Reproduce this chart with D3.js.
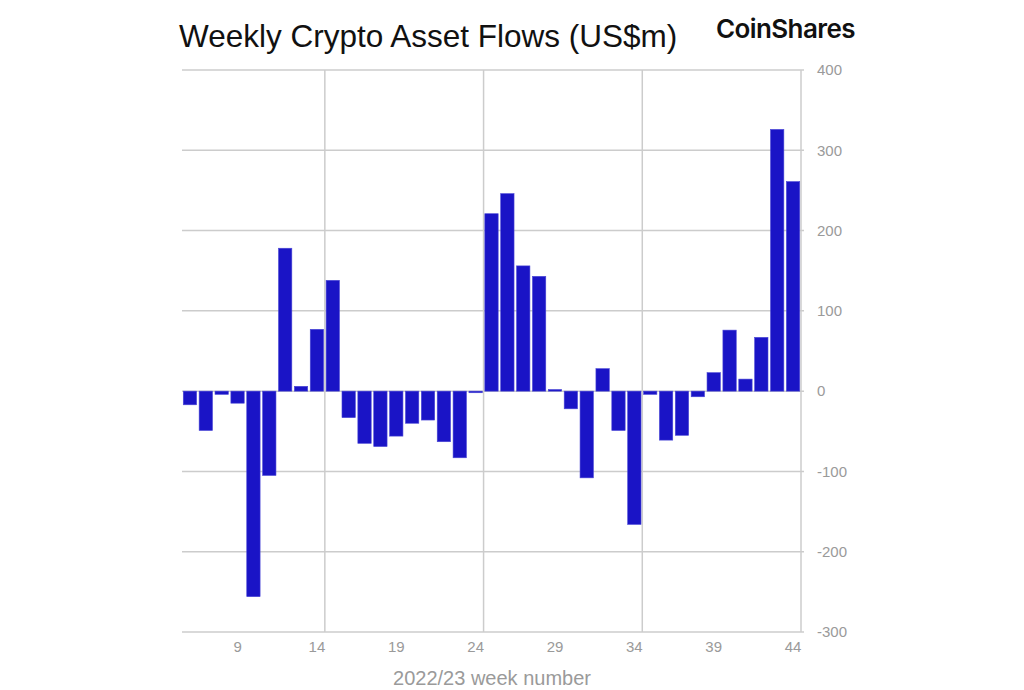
<!DOCTYPE html>
<html><head><meta charset="utf-8">
<script src="https://cdn.jsdelivr.net/npm/d3@7"></script>
<style>body{margin:0;background:#fff}svg{display:block}</style>
</head><body>
<svg id="c" width="1024" height="690"></svg>
<script>
const weeks = d3.range(6, 45);
const flows = [-17,-49,-4,-15,-256,-105,178,6,77,138,-33,-65,-69,-56,-40,-36,-63,-83,-2,221,246,156,143,2,-22,-108,28,-49,-166,-4,-61,-55,-7,23,76,15,67,326,261];
const xTickWeeks = [9,14,19,24,29,34,39,44];
const yTicks = [-300,-200,-100,0,100,200,300,400];
const gridWeeks = [15,25,35];

const svg = d3.select('#c');
const L=182, R=801, T=70, B=632;
const x = d3.scaleBand().domain(weeks).range([L,R]).paddingInner(0.16).paddingOuter(0.08);
const y = d3.scaleLinear().domain([-300,400]).range([B,T]);
const grid='#cccccc';
const font='Liberation Sans, Arial, sans-serif';

svg.append('g').selectAll('line').data(yTicks).join('line')
  .attr('x1',L).attr('x2',R+3).attr('y1',d=>y(d)).attr('y2',d=>y(d))
  .attr('stroke',grid).attr('stroke-width',1.5);
const step = x.step();
svg.append('g').selectAll('line').data(gridWeeks).join('line')
  .attr('x1',d=>x(d)-step*x.paddingInner()/2).attr('x2',d=>x(d)-step*x.paddingInner()/2)
  .attr('y1',T).attr('y2',B).attr('stroke',grid).attr('stroke-width',1.5);
svg.append('line').attr('x1',R).attr('x2',R).attr('y1',T).attr('y2',B).attr('stroke',grid).attr('stroke-width',1.5);

svg.append('g').selectAll('rect').data(weeks).join('rect')
  .attr('x',d=>x(d)).attr('width',x.bandwidth())
  .attr('y',(d,i)=>y(Math.max(0,flows[i])))
  .attr('height',(d,i)=>Math.abs(y(flows[i])-y(0)))
  .attr('fill','#1a14c6').attr('stroke','#4a46d6').attr('stroke-width',0.6);

const yAxis = svg.append('g').attr('transform',`translate(${R},0)`)
  .call(d3.axisRight(y).tickValues(yTicks).tickSize(0).tickPadding(16).tickFormat(d=>String(d)));
yAxis.select('.domain').remove();
yAxis.selectAll('text').attr('fill','#9a9a9a').attr('font-size',15).attr('font-family',font);

const xAxis = svg.append('g').attr('transform',`translate(0,${B})`)
  .call(d3.axisBottom(x).tickValues(xTickWeeks).tickSize(0).tickPadding(9));
xAxis.select('.domain').remove();
xAxis.selectAll('text').attr('fill','#9a9a9a').attr('font-size',15).attr('font-family',font);

svg.append('text').attr('x',492).attr('y',685).attr('text-anchor','middle')
  .attr('fill','#9a9a9a').attr('font-size',20).attr('font-family',font)
  .text('2022/23 week number');

svg.append('text').attr('x',179).attr('y',47).attr('fill','#111')
  .attr('font-size',31.5).attr('font-family',font)
  .text('Weekly Crypto Asset Flows (US$m)');
svg.append('text').attr('x',716).attr('y',38).attr('fill','#111')
  .attr('font-size',26).attr('font-weight',600).attr('letter-spacing',-0.6).attr('font-family','Inter, Liberation Sans, sans-serif')
  .text('CoinShares');
</script>
</body></html>
